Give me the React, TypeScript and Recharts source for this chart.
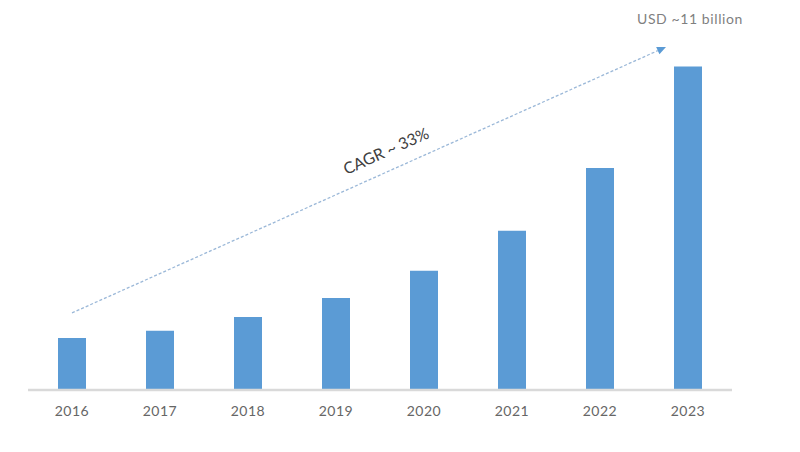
import React from 'react';
import { BarChart, Bar, XAxis, YAxis, ReferenceLine } from 'recharts';

const years = ['2016', '2017', '2018', '2019', '2020', '2021', '2022', '2023'];
const values = [1.77, 2.01, 2.48, 3.13, 4.05, 5.41, 7.55, 11.0];
const cagrLabel = 'CAGR ~ 33%';
const endLabel = 'USD ~11 billion';
const arrowStart = { x: 0, y: 2.62 };
const arrowEnd = { x: 6.75, y: 11.66 };

const data = years.map((y, i) => ({ idx: i, year: y, value: values[i] }));

const ArrowShape = (props: any) => {
  const { x1, y1, x2, y2 } = props;
  if ([x1, y1, x2, y2].some((v) => typeof v !== 'number' || isNaN(v))) return null;
  const ang = Math.atan2(y2 - y1, x2 - x1);
  const deg = (ang * 180) / Math.PI;
  const mx = (x1 + x2) / 2;
  const my = (y1 + y2) / 2;
  const hl = 9, hw = 4;
  const bx = x2 - hl * Math.cos(ang);
  const by = y2 - hl * Math.sin(ang);
  const p1 = `${x2},${y2}`;
  const p2 = `${bx + hw * Math.sin(ang)},${by - hw * Math.cos(ang)}`;
  const p3 = `${bx - hw * Math.sin(ang)},${by + hw * Math.cos(ang)}`;
  const off = 30;
  const tx = mx + 30 + off * Math.sin(ang);
  const ty = my - off * Math.cos(ang);
  return (
    <g>
      <line x1={x1} y1={y1} x2={bx} y2={by} stroke="#9bb8d8" strokeWidth={1.3} strokeDasharray="3 2" />
      <polygon points={`${p1} ${p2} ${p3}`} fill="#5b9bd5" />
      <text
        x={tx}
        y={ty}
        transform={`rotate(${deg} ${tx} ${ty})`}
        textAnchor="middle"
        dominantBaseline="middle"
        fontSize={16}
        fill="#404040"
        fontFamily="Lato, 'Open Sans', sans-serif"
      >
        {cagrLabel}
      </text>
      <text
        x={x2 + 24}
        y={y2 - 27}
        textAnchor="middle"
        dominantBaseline="middle"
        fontSize={14}
        letterSpacing={0.6}
        fill="#7f7f7f"
        fontFamily="Lato, 'Open Sans', sans-serif"
      >
        {endLabel}
      </text>
    </g>
  );
};

export default function App() {
  return (
    <div style={{ position: 'absolute', left: 0, top: 0, width: 800, height: 452, background: '#fff' }}>
      <BarChart
        width={800}
        height={452}
        data={data}
        margin={{ top: 37, right: 68, bottom: 32, left: 28 }}
      >
        <XAxis
          dataKey="idx"
          type="number"
          domain={[-0.5, 7.5]}
          ticks={[0, 1, 2, 3, 4, 5, 6, 7]}
          tickFormatter={(v: number) => years[v]}
          axisLine={{ stroke: '#d9d9d9', strokeWidth: 2.5 }}
          tickLine={false}
          tickMargin={10}
          height={30}
          tick={{ fill: '#666666', fontSize: 14, letterSpacing: 0.5, fontFamily: "Lato, 'Open Sans', sans-serif" }}
          allowDataOverflow
        />
        <YAxis hide domain={[0, 12]} />
        <Bar dataKey="value" fill="#5b9bd5" barSize={28} isAnimationActive={false} />
        <ReferenceLine
          segment={[arrowStart, arrowEnd]}
          ifOverflow="visible"
          shape={ArrowShape}
        />
      </BarChart>
    </div>
  );
}
